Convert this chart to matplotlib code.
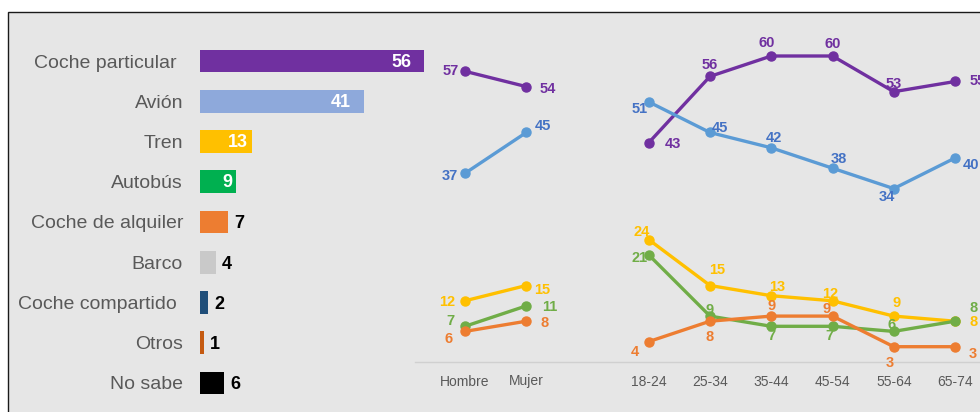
import matplotlib
matplotlib.use("Agg")
import matplotlib.pyplot as plt
from matplotlib.patches import Rectangle

plt.rcParams['font.family'] = ['Liberation Sans', 'DejaVu Sans']

# ---------------- data ----------------
categories = ["Coche particular", "Avión", "Tren", "Autobús", "Coche de alquiler",
              "Barco", "Coche compartido", "Otros", "No sabe"]
bar_values = [56, 41, 13, 9, 7, 4, 2, 1, 6]
bar_colors = ["#7030A0", "#8EA9DB", "#FFC000", "#00B050", "#ED7D31",
              "#C9C9C9", "#1F4E79", "#C55A11", "#000000"]

sex_labels = ["Hombre", "Mujer"]
age_labels = ["18-24", "25-34", "35-44", "45-54", "55-64", "65-74"]

series_names = ["Coche particular", "Avión", "Tren", "Autobús", "Coche de alquiler"]
sex_values = {
    "Coche particular": [57, 54],
    "Avión": [37, 45],
    "Tren": [12, 15],
    "Autobús": [7, 11],
    "Coche de alquiler": [6, 8],
}
age_values = {
    "Coche particular": [43, 56, 60, 60, 53, 55],
    "Avión": [51, 45, 42, 38, 34, 40],
    "Tren": [24, 15, 13, 12, 9, 8],
    "Autobús": [21, 9, 7, 7, 6, 8],
    "Coche de alquiler": [4, 8, 9, 9, 3, 3],
}

# ---------------- styles ----------------
line_colors = {"Coche particular": "#7030A0", "Avión": "#5B9BD5", "Tren": "#FFC000",
               "Autobús": "#70AD47", "Coche de alquiler": "#ED7D31"}
label_colors = {"Coche particular": "#7030A0", "Avión": "#4472C4", "Tren": "#FFC000",
                "Autobús": "#70AD47", "Coche de alquiler": "#ED7D31"}
# label offsets in pixels (dx, dy)
sex_offsets = {
    "Coche particular": [(-14, 0), (22, -2)],
    "Avión": [(-15, -3), (17, 6)],
    "Tren": [(-18, -1), (16, -5)],
    "Autobús": [(-15, 5), (23, -1)],
    "Coche de alquiler": [(-16, -8), (18, -2)],
}
age_offsets = {
    "Coche particular": [(24, -1), (0, 11), (-5, 13), (0, 12), (0, 8), (23, 0)],
    "Avión": [(-9, -7), (10, 4), (3, 10), (6, 9), (-7, -8), (16, -7)],
    "Tren": [(-7, 8), (7, 15), (6, 9), (-2, 7), (3, 13), (19, -1)],
    "Autobús": [(-9, -3), (0, 6), (0, -10), (-3, -10), (-2, 6), (19, 13)],
    "Coche de alquiler": [(-14, -10), (0, -16), (0, 10), (-6, 7), (-4, -16), (18, -7)],
}

W, H = 980, 412
fig = plt.figure(figsize=(W / 100, H / 100), dpi=100, facecolor="white")

# gray panel with border (extends beyond right and bottom)
bg = Rectangle((8 / W, -0.1), 1.2, (H - 12) / H + 0.1, transform=fig.transFigure,
               facecolor="#E6E6E6", edgecolor="#1a1a1a", lw=1.0, zorder=-10)
fig.patches.append(bg)


def px_axes(left, top, right, bottom):
    return fig.add_axes([left / W, (H - bottom) / H, (right - left) / W, (bottom - top) / H])


# ---------------- bar chart ----------------
axb = px_axes(200, 40.9, 430, 403.1)
axb.set_facecolor("none")
n = len(categories)
ypos = list(range(n))
axb.barh(ypos, bar_values, height=0.57, color=bar_colors)
axb.set_xlim(0, 57.5)
axb.set_ylim(n - 0.5, -0.5)
axb.axis("off")
for i, (cat, v) in enumerate(zip(categories, bar_values)):
    dx = -6 if cat in ("Coche particular", "Coche compartido") else 0
    axb.annotate(cat, xy=(0, i), xytext=(-17 + dx, -2), textcoords="offset pixels",
                 ha="right", va="center", fontsize=14, color="#595959")
    if v >= 9:
        inset = -13 if v >= 20 else -4
        axb.annotate(str(v), xy=(v, i), xytext=(inset, -1), textcoords="offset pixels",
                     ha="right", va="center", fontsize=13, fontweight="bold", color="white")
    else:
        axb.annotate(str(v), xy=(v, i), xytext=(6, -2), textcoords="offset pixels",
                     ha="left", va="center", fontsize=13, fontweight="bold", color="black")

# ---------------- line charts ----------------
axl = px_axes(415, 12, 980, 362)
axl.set_facecolor("none")
sex_x = [0, 1]
age_x = [3, 4, 5, 6, 7, 8]
unit = 61.25
axl.set_xlim((415 - 465) / unit, (980 - 465) / unit)
axl.set_ylim(0, 350 / 5.1)

for name in series_names:
    c = line_colors[name]
    axl.plot(sex_x, sex_values[name], color=c, lw=2.4, marker="o", ms=6.5,
             solid_capstyle="round", zorder=3)
    axl.plot(age_x, age_values[name], color=c, lw=2.4, marker="o", ms=6.5,
             solid_capstyle="round", zorder=3)
    for x, v, (dx, dy) in zip(sex_x, sex_values[name], sex_offsets[name]):
        axl.annotate(str(v), xy=(x, v), xytext=(dx, dy), textcoords="offset pixels",
                     ha="center", va="center", fontsize=10.5, fontweight="bold",
                     color=label_colors[name], zorder=4)
    for x, v, (dx, dy) in zip(age_x, age_values[name], age_offsets[name]):
        axl.annotate(str(v), xy=(x, v), xytext=(dx, dy), textcoords="offset pixels",
                     ha="center", va="center", fontsize=10.5, fontweight="bold",
                     color=label_colors[name], zorder=4)

axl.set_xticks(sex_x + age_x)
axl.set_xticklabels(sex_labels + age_labels, fontsize=10, color="#595959")
axl.tick_params(axis="x", length=0, pad=9)
axl.set_yticks([])
for s in ("top", "right", "left"):
    axl.spines[s].set_visible(False)
axl.spines["bottom"].set_color("#D0D0D0")
axl.spines["bottom"].set_linewidth(1.0)

fig.savefig("out.png", dpi=100, facecolor="white")
